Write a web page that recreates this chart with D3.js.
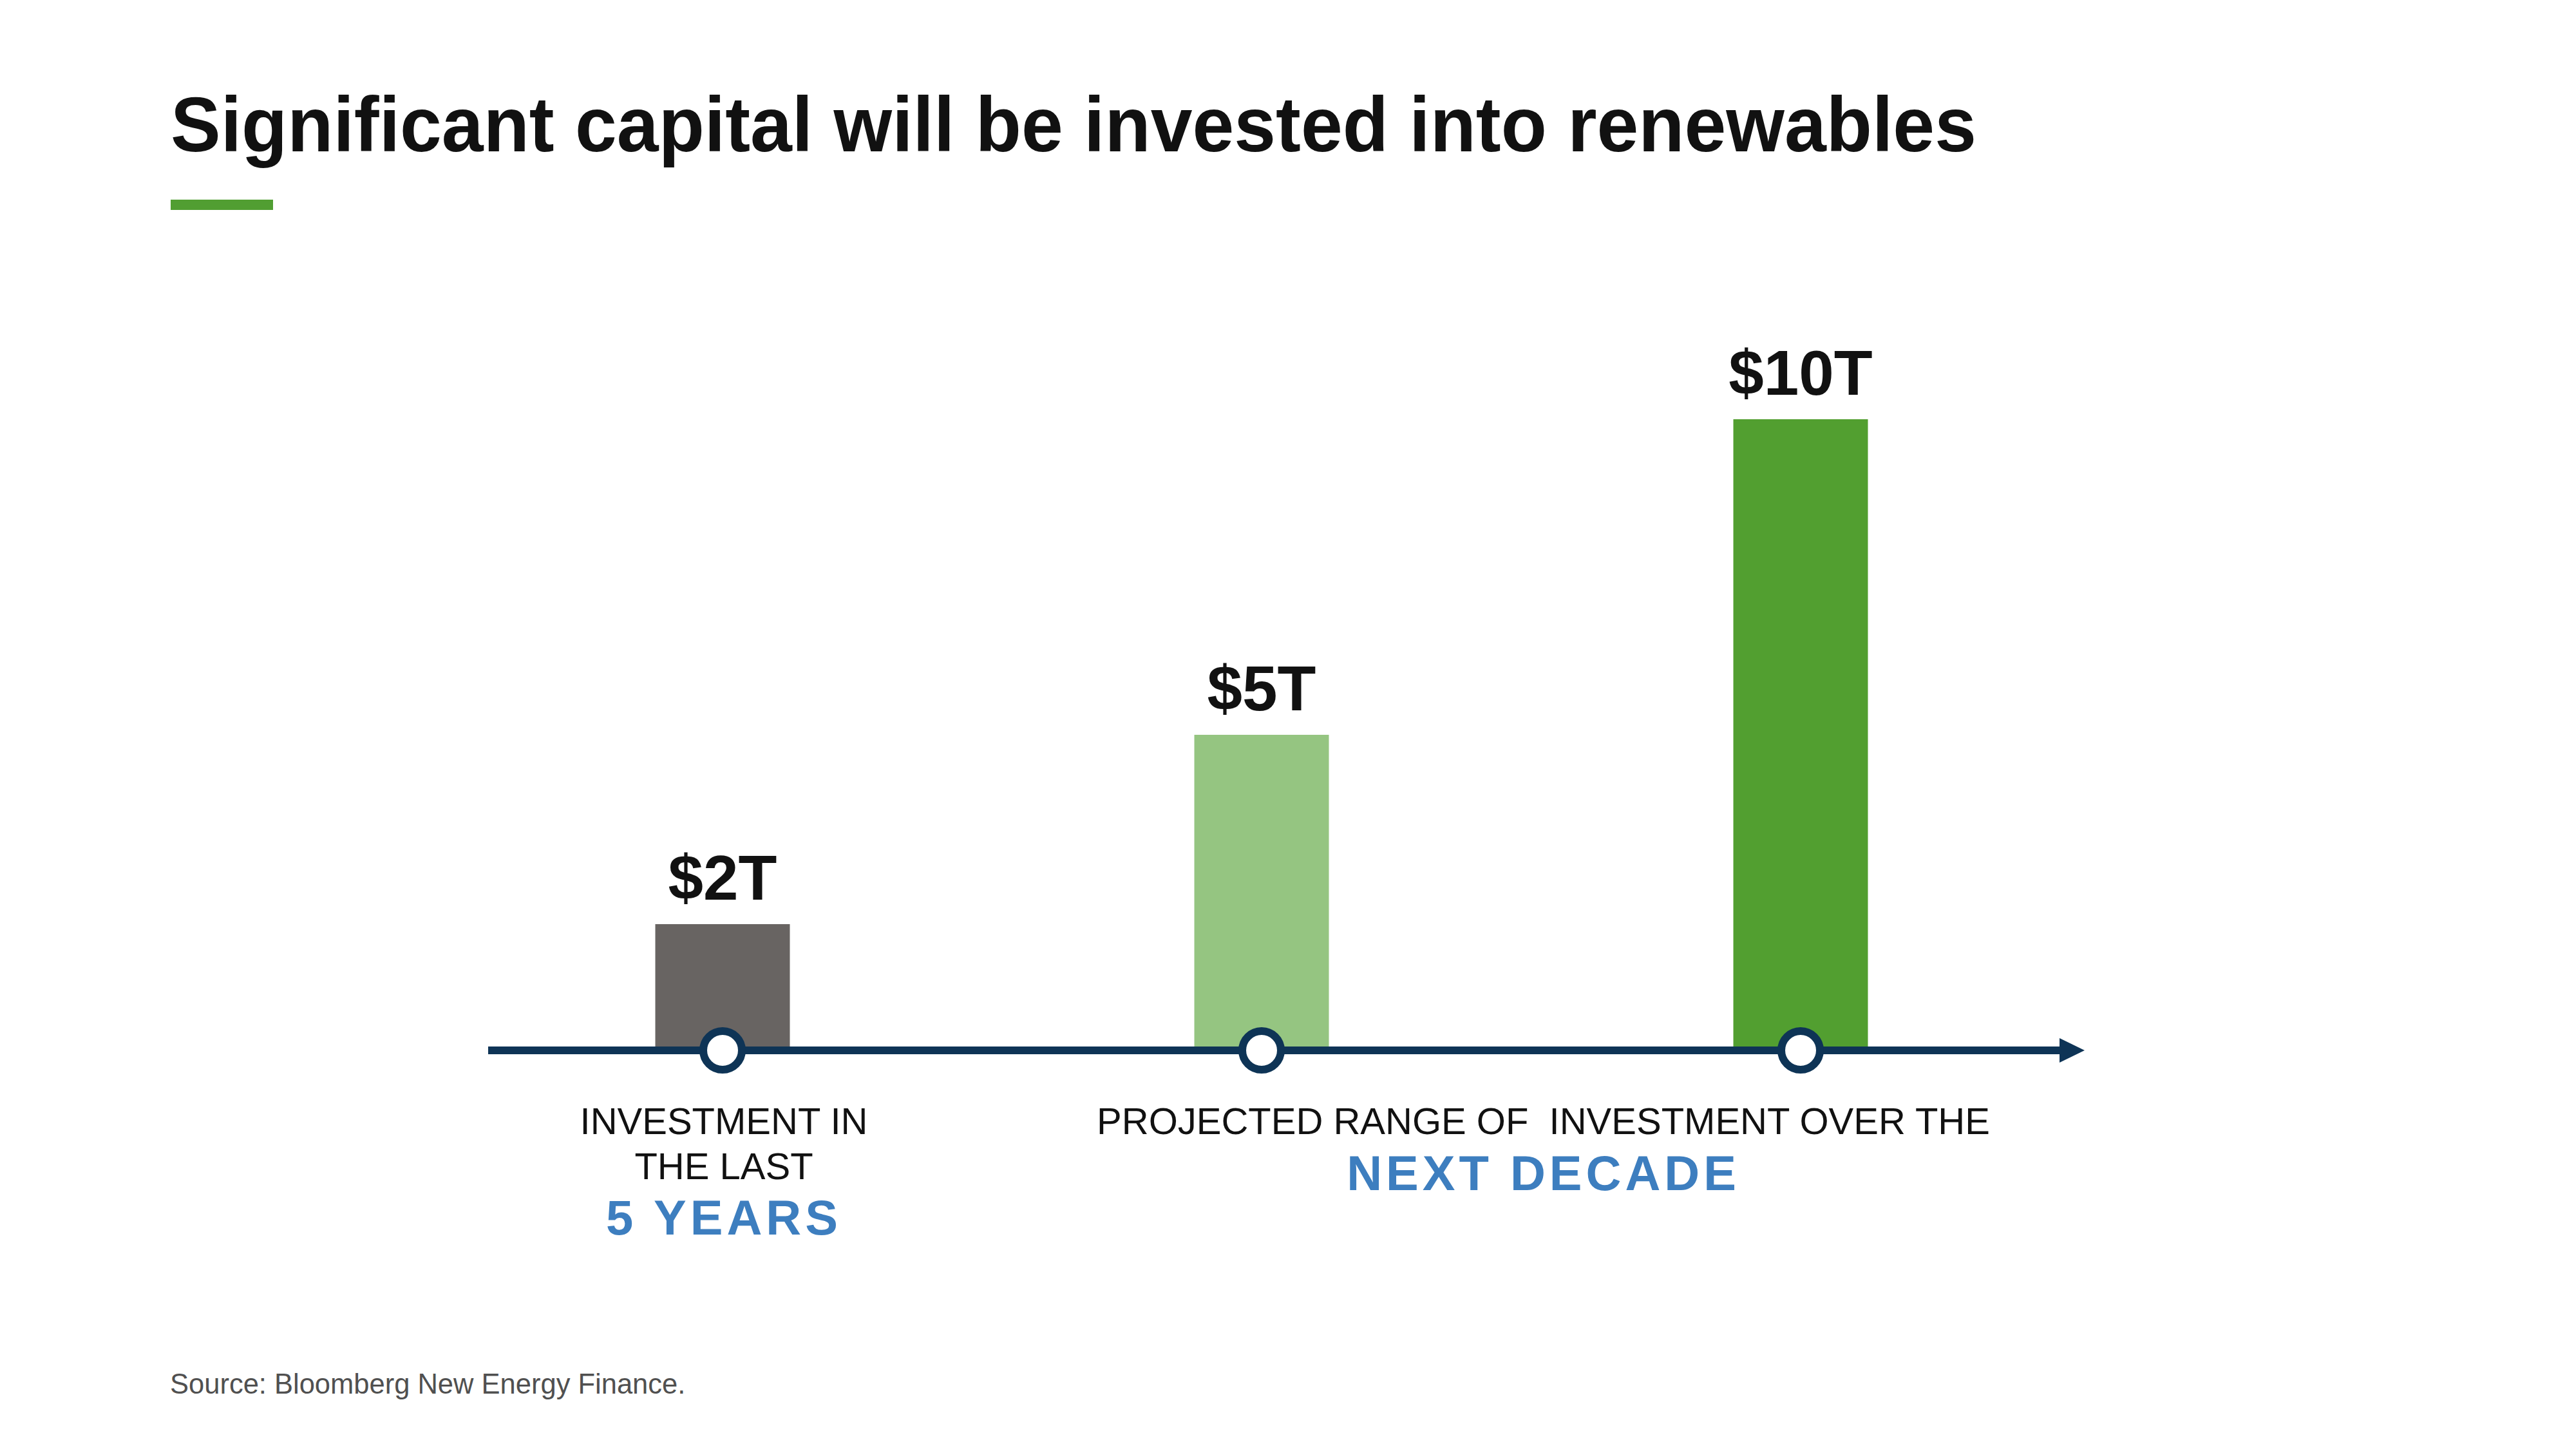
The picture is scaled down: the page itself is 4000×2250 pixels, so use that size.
<!DOCTYPE html>
<html><head><meta charset="utf-8">
<script src="https://cdn.jsdelivr.net/npm/d3@7"></script>
<style>html,body{margin:0;padding:0;background:#fff;}svg{display:block;}</style>
</head><body>
<script>
const categories = ["Last 5 years", "Next decade (low)", "Next decade (high)"];
const values = [2, 5, 10];
const valueLabels = ["$2T", "$5T", "$10T"];
const titleText = "Significant capital will be invested into renewables";
const groupLabels = [
  {lines: ["INVESTMENT IN", "THE LAST"], emph: "5 YEARS", cats: ["Last 5 years"]},
  {lines: ["PROJECTED RANGE OF  INVESTMENT OVER THE"], emph: "NEXT DECADE", cats: ["Next decade (low)", "Next decade (high)"]}
];
const sourceText = "Source: Bloomberg New Energy Finance.";

const W = 4000, H = 2250;
const svg = d3.select("body").append("svg").attr("width", W).attr("height", H);
const font = "'Liberation Sans', Arial, Helvetica, sans-serif";

const x = d3.scalePoint().domain(categories).range([1122, 2796]);
const y = d3.scaleLinear().domain([0, 10]).range([1631, 651]);
const color = d3.scaleOrdinal().domain(categories).range(["#686462", "#95c581", "#529f30"]);
const barW = 209;
const navy = "#0e3456";

// Title
const title = svg.append("text").attr("x", 265).attr("y", 235)
  .attr("font-family", font).attr("font-weight", "bold").attr("font-size", 120)
  .attr("fill", "#111").text(titleText);
const tl = title.node().getComputedTextLength();
if (Math.abs(tl - 2804) > 10) title.attr("textLength", 2804).attr("lengthAdjust", "spacingAndGlyphs");

svg.append("rect").attr("x", 265).attr("y", 310).attr("width", 159).attr("height", 16).attr("fill", "#519e32");

// Bars
svg.selectAll("rect.bar").data(categories).join("rect").attr("class", "bar")
  .attr("x", d => x(d) - barW / 2).attr("width", barW)
  .attr("y", (d, i) => y(values[i])).attr("height", (d, i) => y(0) - y(values[i]))
  .attr("fill", d => color(d));

// Value labels
svg.selectAll("text.val").data(categories).join("text").attr("class", "val")
  .attr("x", d => x(d)).attr("y", (d, i) => y(values[i]) - 38)
  .attr("text-anchor", "middle").attr("font-family", font).attr("font-weight", "bold")
  .attr("font-size", 98).attr("fill", "#111").text((d, i) => valueLabels[i]);

// Axis line with arrow
svg.append("line").attr("x1", 758).attr("x2", 3205).attr("y1", y(0)).attr("y2", y(0))
  .attr("stroke", navy).attr("stroke-width", 12);
svg.append("path").attr("d", `M3198,${y(0) - 19} L3237,${y(0)} L3198,${y(0) + 19} Z`).attr("fill", navy);

// Markers
svg.selectAll("circle.mk").data(categories).join("circle").attr("class", "mk")
  .attr("cx", d => x(d)).attr("cy", y(0)).attr("r", 30)
  .attr("fill", "#fff").attr("stroke", navy).attr("stroke-width", 12);

// Group labels
groupLabels.forEach((g, gi) => {
  const cx = d3.mean(g.cats, c => x(c)) + (gi === 1 ? 19 : 2);
  let yy = 1761;
  g.lines.forEach(line => {
    svg.append("text").attr("x", cx).attr("y", yy).attr("text-anchor", "middle")
      .attr("font-family", font).attr("font-size", 58).attr("fill", "#111")
      .style("white-space", "pre").attr("xml:space", "preserve").text(line);
    yy += 70;
  });
  const ey = g.lines.length > 1 ? 1917 : 1848;
  svg.append("text").attr("x", cx).attr("y", ey).attr("text-anchor", "middle")
    .attr("font-family", font).attr("font-weight", "bold").attr("font-size", 76)
    .attr("letter-spacing", 6).attr("fill", "#3d7ebf").text(g.emph);
});

// Source
svg.append("text").attr("x", 264).attr("y", 2164).attr("font-family", font)
  .attr("font-size", 43.5).attr("fill", "#505050").text(sourceText);
</script>
</body></html>
